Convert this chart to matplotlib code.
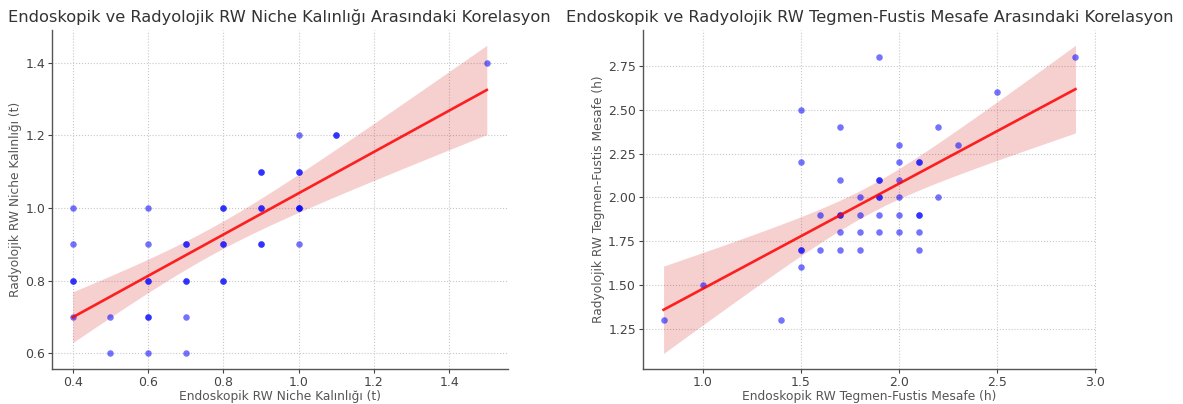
import numpy as np
import matplotlib
matplotlib.use("Agg")
import matplotlib.pyplot as plt

# Left panel: Niche thickness (t)
niche_endo = [0.4, 0.4, 0.4, 0.4, 0.4,
              0.5, 0.5,
              0.6, 0.6, 0.6, 0.6, 0.6, 0.6, 0.6,
              0.7, 0.7, 0.7, 0.7, 0.7, 0.7,
              0.8, 0.8, 0.8, 0.8, 0.8, 0.8,
              0.9, 0.9, 0.9, 0.9, 0.9, 0.9,
              1.0, 1.0, 1.0, 1.0, 1.0, 1.0, 1.0,
              1.1, 1.1,
              1.5]
niche_rad = [1.0, 0.9, 0.8, 0.8, 0.7,
             0.7, 0.6,
             1.0, 0.9, 0.8, 0.8, 0.7, 0.7, 0.6,
             0.9, 0.9, 0.8, 0.8, 0.7, 0.6,
             1.0, 1.0, 0.9, 0.9, 0.8, 0.8,
             1.1, 1.1, 1.0, 1.0, 0.9, 0.9,
             1.2, 1.1, 1.1, 1.0, 1.0, 1.0, 0.9,
             1.2, 1.2,
             1.4]

# Right panel: Tegmen-Fustis distance (h)
tf_endo = [0.8, 1.0, 1.4,
           1.5, 1.5, 1.5, 1.5, 1.5,
           1.6, 1.6,
           1.7, 1.7, 1.7, 1.7, 1.7, 1.7,
           1.8, 1.8, 1.8, 1.8,
           1.9, 1.9, 1.9, 1.9, 1.9, 1.9, 1.9,
           2.0, 2.0, 2.0, 2.0, 2.0, 2.0,
           2.1, 2.1, 2.1, 2.1, 2.1, 2.1,
           2.2, 2.2, 2.3, 2.5, 2.9]
tf_rad = [1.3, 1.5, 1.3,
          2.5, 2.2, 1.7, 1.7, 1.6,
          1.9, 1.7,
          2.4, 2.1, 1.9, 1.9, 1.8, 1.7,
          2.0, 1.9, 1.8, 1.7,
          2.8, 2.1, 2.1, 2.0, 2.0, 1.9, 1.8,
          2.3, 2.2, 2.1, 2.0, 1.9, 1.8,
          2.2, 2.2, 1.9, 1.9, 1.8, 1.7,
          2.4, 2.0, 2.3, 2.6, 2.8]

titles = ["Endoskopik ve Radyolojik RW Niche Kalınlığı Arasındaki Korelasyon",
          "Endoskopik ve Radyolojik RW Tegmen-Fustis Mesafe Arasındaki Korelasyon"]
xlabels = ["Endoskopik RW Niche Kalınlığı (t)", "Endoskopik RW Tegmen-Fustis Mesafe (h)"]
ylabels = ["Radyolojik RW Niche Kalınlığı (t)", "Radyolojik RW Tegmen-Fustis Mesafe (h)"]


def regplot(ax, x, y):
    x = np.asarray(x, float)
    y = np.asarray(y, float)
    n = len(x)
    b, a = np.polyfit(x, y, 1)
    xs = np.linspace(x.min(), x.max(), 100)
    ys = a + b * xs
    resid = y - (a + b * x)
    s = np.sqrt(np.sum(resid ** 2) / (n - 2))
    sxx = np.sum((x - x.mean()) ** 2)
    se = s * np.sqrt(1.0 / n + (xs - x.mean()) ** 2 / sxx)
    t = 2.02
    ax.scatter(x, y, s=22, color="blue", alpha=0.55, linewidths=0, zorder=3)
    ax.fill_between(xs, ys - t * se, ys + t * se, color="#d62020", alpha=0.21,
                    linewidth=0, zorder=2)
    ax.plot(xs, ys, color="red", lw=1.9, alpha=0.85, zorder=4)


fig = plt.figure(figsize=(11.83, 4.04), dpi=100)
ax1 = fig.add_axes([0.044, 0.087, 0.385, 0.839])
ax2 = fig.add_axes([0.5435, 0.087, 0.383, 0.839])

regplot(ax1, niche_endo, niche_rad)
regplot(ax2, tf_endo, tf_rad)

ax1.set_xticks([0.4, 0.6, 0.8, 1.0, 1.2, 1.4])
ax1.set_yticks([0.6, 0.8, 1.0, 1.2, 1.4])
ax2.set_xticks([1.0, 1.5, 2.0, 2.5, 3.0])
ax2.set_yticks([1.25, 1.50, 1.75, 2.00, 2.25, 2.50, 2.75])
ax2.yaxis.set_major_formatter(matplotlib.ticker.FormatStrFormatter("%.2f"))

for ax, t, xl, yl in zip([ax1, ax2], titles, xlabels, ylabels):
    ax.set_title(t, fontsize=11.7, color="#333333", pad=6)
    ax.set_xlabel(xl, fontsize=8.8, color="#555555", labelpad=1)
    ax.set_ylabel(yl, fontsize=8.8, color="#555555", labelpad=2)
    ax.tick_params(labelsize=9, colors="#444444", length=3, width=0.8, pad=2)
    ax.grid(True, linestyle=":", color="#c8c8c8", linewidth=0.8)
    ax.set_axisbelow(True)
    for sp in ["top", "right"]:
        ax.spines[sp].set_visible(False)
    for sp in ["left", "bottom"]:
        ax.spines[sp].set_color("#555555")
        ax.spines[sp].set_linewidth(1.0)

fig.savefig("out.png", dpi=100)
